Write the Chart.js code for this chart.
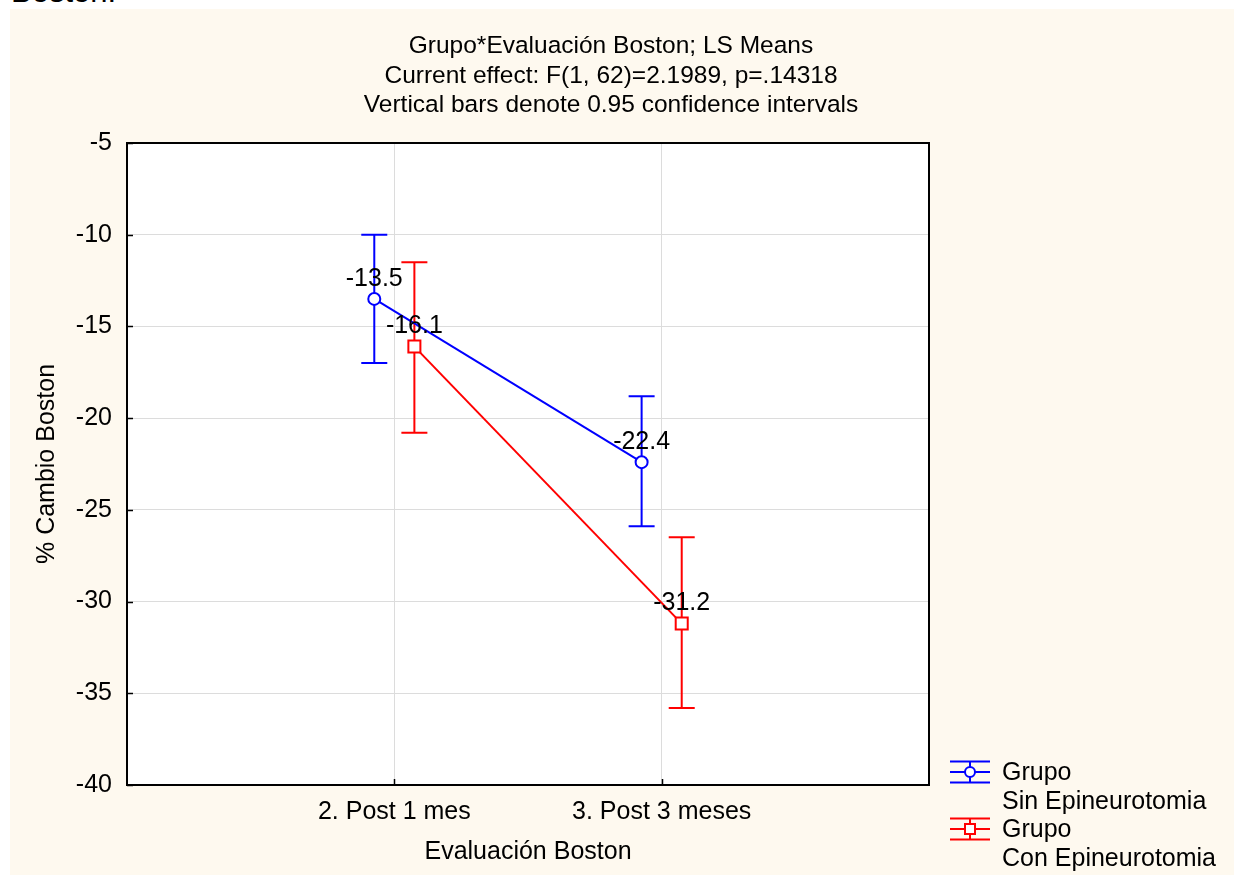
<!DOCTYPE html>
<html>
<head>
<meta charset="utf-8">
<script src="https://cdn.jsdelivr.net/npm/chart.js@4.4.0/dist/chart.umd.min.js"></script>
<style>
  html, body { margin: 0; padding: 0; background: #fff; overflow: hidden; }
  body { width: 1234px; height: 875px; position: relative; font-family: 'Liberation Sans', Arial, sans-serif; }
  #docText { position: absolute; left: 11px; top: -24px; font-size: 31px; line-height: 31px; color: #000; white-space: nowrap; }
  #panel { position: absolute; left: 10px; top: 9px; width: 1224px; height: 866px; background: #fef9ef; }
</style>
</head>
<body>
<div id="docText">Boston.</div>
<div id="panel"><canvas id="lsMeansChart" width="1224" height="866"></canvas></div>
<script>
// Chart texts
const titleLines = [
    'Grupo*Evaluación Boston; LS Means',
    'Current effect: F(1, 62)=2.1989, p=.14318',
    'Vertical bars denote 0.95 confidence intervals'
];
const categories = ['2. Post 1 mes', '3. Post 3 meses'];
const xAxisTitle = 'Evaluación Boston';
const yAxisTitle = '% Cambio Boston';

// Y axis range and step
const yMin = -40;
const yMax = -5;
const yStep = 5;

// LS means and 0.95 confidence limits per group
const sinLabel = ['Grupo', 'Sin Epineurotomia'];
const sinMeans = [-13.5, -22.4];
const sinLower = [-17.0, -25.9];
const sinUpper = [-10.0, -18.8];

const conLabel = ['Grupo', 'Con Epineurotomia'];
const conMeans = [-16.1, -31.2];
const conLower = [-20.8, -35.8];
const conUpper = [-11.5, -26.5];

const FONT = "'Liberation Sans', Arial, sans-serif";
const dodge = 0.075; // groups are drawn slightly apart around each category

function toPoints(values, shift) {
    return values.map((v, i) => ({ x: i + 1 + shift, y: v }));
}

// white plot area, error bars, value labels, frame, inward ticks, title and legend
const statPlugin = {
    id: 'statPlugin',
    beforeDraw(chart) {
        const { ctx, chartArea: a } = chart;
        ctx.save();
        ctx.fillStyle = '#ffffff';
        ctx.fillRect(a.left, a.top, a.right - a.left, a.bottom - a.top);
        ctx.restore();
    },
    beforeDatasetsDraw(chart) {
        const ctx = chart.ctx;
        const yScale = chart.scales.y;
        chart.data.datasets.forEach((ds, i) => {
            const meta = chart.getDatasetMeta(i);
            ctx.save();
            ctx.strokeStyle = ds.borderColor;
            ctx.lineWidth = 2;
            meta.data.forEach((pt, j) => {
                const yLo = yScale.getPixelForValue(ds.lower[j]);
                const yHi = yScale.getPixelForValue(ds.upper[j]);
                ctx.beginPath();
                ctx.moveTo(pt.x, yLo); ctx.lineTo(pt.x, yHi);
                ctx.moveTo(pt.x - 13, yLo); ctx.lineTo(pt.x + 13, yLo);
                ctx.moveTo(pt.x - 13, yHi); ctx.lineTo(pt.x + 13, yHi);
                ctx.stroke();
            });
            ctx.restore();
        });
    },
    afterDatasetsDraw(chart) {
        const ctx = chart.ctx;
        ctx.save();
        ctx.font = '25px ' + FONT;
        ctx.fillStyle = '#000';
        ctx.textAlign = 'center';
        ctx.textBaseline = 'middle';
        chart.data.datasets.forEach((ds, i) => {
            chart.getDatasetMeta(i).data.forEach((pt, j) => {
                ctx.fillText(ds.data[j].y.toFixed(1), pt.x, pt.y - 20);
            });
        });
        ctx.restore();
    },
    afterDraw(chart) {
        const { ctx, chartArea: a } = chart;
        ctx.save();
        // frame
        ctx.strokeStyle = '#000';
        ctx.lineWidth = 2;
        ctx.strokeRect(a.left, a.top, a.right - a.left, a.bottom - a.top);
        // inward tick marks
        ctx.lineWidth = 1.5;
        ctx.beginPath();
        chart.scales.y.ticks.forEach(t => {
            const y = Math.round(chart.scales.y.getPixelForValue(t.value)) + 0.5;
            ctx.moveTo(a.left, y); ctx.lineTo(a.left + 6, y);
        });
        chart.scales.x.ticks.forEach(t => {
            const x = Math.round(chart.scales.x.getPixelForValue(t.value)) + 0.5;
            ctx.moveTo(x, a.bottom); ctx.lineTo(x, a.bottom - 6);
        });
        ctx.stroke();

        // title
        ctx.fillStyle = '#000';
        ctx.font = '24.5px ' + FONT;
        ctx.textAlign = 'center';
        ctx.textBaseline = 'alphabetic';
        titleLines.forEach((line, i) => ctx.fillText(line, 601, 44 + i * 29.5));

        // legend
        ctx.font = '25px ' + FONT;
        ctx.textAlign = 'left';
        chart.data.datasets.forEach((ds, i) => {
            const cy = 763 + i * 57;
            const cx = 960;
            ctx.strokeStyle = ds.borderColor;
            ctx.lineWidth = 2;
            ctx.beginPath();
            ctx.moveTo(cx - 20, cy - 10.5); ctx.lineTo(cx + 20, cy - 10.5);
            ctx.moveTo(cx - 20, cy); ctx.lineTo(cx + 20, cy);
            ctx.moveTo(cx - 20, cy + 10.5); ctx.lineTo(cx + 20, cy + 10.5);
            ctx.moveTo(cx, cy - 10.5); ctx.lineTo(cx, cy + 10.5);
            ctx.stroke();
            ctx.fillStyle = '#fff';
            ctx.beginPath();
            if (ds.pointStyle === 'circle') {
                ctx.arc(cx, cy, 5, 0, Math.PI * 2);
            } else {
                ctx.rect(cx - 5, cy - 5, 10, 10);
            }
            ctx.fill();
            ctx.stroke();
            ctx.fillStyle = '#000';
            ds.legendText.forEach((txt, k) => ctx.fillText(txt, 992, cy + 8 + k * 29));
        });
        ctx.restore();
    }
};

const lsMeansChart = new Chart(document.getElementById('lsMeansChart'), {
    type: 'line',
    data: {
        datasets: [{
            label: sinLabel.join(' '),
            legendText: sinLabel,
            data: toPoints(sinMeans, -dodge),
            lower: sinLower,
            upper: sinUpper,
            borderColor: '#0000ff',
            borderWidth: 2,
            pointStyle: 'circle',
            pointRadius: 6,
            pointBorderWidth: 2,
            pointBackgroundColor: '#ffffff',
            tension: 0
        }, {
            label: conLabel.join(' '),
            legendText: conLabel,
            data: toPoints(conMeans, dodge),
            lower: conLower,
            upper: conUpper,
            borderColor: '#ff0000',
            borderWidth: 2,
            pointStyle: 'rect',
            pointRadius: 8.5,
            pointBorderWidth: 2,
            pointBackgroundColor: '#ffffff',
            tension: 0
        }]
    },
    options: {
        responsive: false,
        animation: false,
        layout: {
            padding: { left: 0, top: 134, right: 305, bottom: 0 }
        },
        plugins: {
            legend: { display: false },
            title: { display: false },
            tooltip: { enabled: false }
        },
        scales: {
            x: {
                type: 'linear',
                min: 0,
                max: categories.length + 1,
                afterBuildTicks: (scale) => {
                    scale.ticks = categories.map((c, i) => ({ value: i + 1 }));
                },
                afterFit: (scale) => { scale.height = 90; },
                ticks: {
                    autoSkip: false,
                    maxRotation: 0,
                    padding: 12,
                    color: '#000',
                    font: { family: FONT, size: 25 },
                    callback: (value) => categories[value - 1]
                },
                grid: { color: '#dcdcdc', lineWidth: 1, drawTicks: false },
                border: { display: false },
                title: {
                    display: true,
                    text: xAxisTitle,
                    color: '#000',
                    font: { family: FONT, size: 25 },
                    padding: { top: 0, bottom: 8 }
                }
            },
            y: {
                min: yMin,
                max: yMax,
                afterFit: (scale) => { scale.width = 117; },
                ticks: {
                    stepSize: yStep,
                    padding: 15,
                    color: '#000',
                    font: { family: FONT, size: 25 }
                },
                grid: { color: '#dcdcdc', lineWidth: 1, drawTicks: false },
                border: { display: false },
                title: {
                    display: true,
                    text: yAxisTitle,
                    color: '#000',
                    font: { family: FONT, size: 25 },
                    padding: { top: 22, bottom: 0 }
                }
            }
        }
    },
    plugins: [statPlugin]
});
</script>
</body>
</html>
